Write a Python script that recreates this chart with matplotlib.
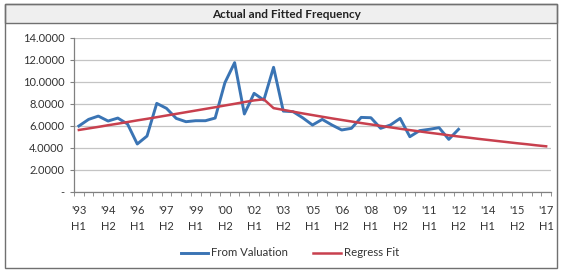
import matplotlib
matplotlib.use("Agg")
import matplotlib.pyplot as plt
from matplotlib.patches import Rectangle
from matplotlib.lines import Line2D

plt.rcParams['font.family'] = ['Lato', 'DejaVu Sans']

# half-year periods from 1993 H1 to 2017 H1
periods = ["'%02d H%d" % (y % 100, h) for y in range(1993, 2018) for h in (1, 2)][:49]
tick_every = 3

from_valuation = [5.98, 6.58, 6.88, 6.43, 6.70, 6.16, 4.35, 5.07, 8.03, 7.58,
                  6.67, 6.37, 6.46, 6.46, 6.70, 9.90, 11.72, 7.07, 8.94, 8.33,
                  11.30, 7.33, 7.28, 6.72, 6.07, 6.58, 6.07, 5.62, 5.77, 6.76,
                  6.73, 5.77, 6.07, 6.67, 5.01, 5.56, 5.68, 5.83, 4.77, 5.68]

regress_fit = [5.62, 5.76, 5.90, 6.05, 6.19, 6.34, 6.49, 6.63, 6.78, 6.93,
               7.08, 7.23, 7.38, 7.53, 7.68, 7.84, 7.99, 8.15, 8.30, 8.40,
               7.60, 7.44, 7.28, 7.12, 6.97, 6.82, 6.67, 6.53, 6.39, 6.25,
               6.12, 5.99, 5.86, 5.73, 5.61, 5.49, 5.37, 5.26, 5.14, 5.03,
               4.93, 4.82, 4.72, 4.62, 4.52, 4.42, 4.33, 4.23, 4.14]

y_ticks = [0, 2, 4, 6, 8, 10, 12, 14]

W, H = 563, 271
fig = plt.figure(figsize=(W / 100, H / 100), dpi=100)
ax = fig.add_axes([74 / W, 1 - 192 / H, (551 - 74) / W, (192 - 37.5) / H])

blue = '#3a74b4'
red = '#c8404e'
ax.plot(range(len(from_valuation)), from_valuation, color=blue, lw=2.1,
        solid_joinstyle='round', label='From Valuation', zorder=3)
ax.plot(range(len(regress_fit)), regress_fit, color=red, lw=1.8,
        solid_joinstyle='round', label='Regress Fit', zorder=4)

ax.set_xlim(-0.5, len(periods) - 0.5)
ax.set_ylim(0, 14)
ax.set_yticks(y_ticks)
ax.set_yticklabels(['-' if v == 0 else '%.4f' % v for v in y_ticks],
                   fontsize=8, color='#333333')
ax.yaxis.grid(True, color='#c4c4c4', lw=0.9)
ax.set_axisbelow(True)

idx = list(range(0, len(periods), tick_every))
ax.set_xticks(idx)
ax.set_xticklabels([periods[i].replace(' ', '\n') for i in idx],
                   fontsize=8, color='#333333', linespacing=1.65)
ax.set_xticks([i - 0.5 for i in range(len(periods) + 1)], minor=True)
ax.tick_params(axis='x', which='major', length=0, pad=9)
ax.tick_params(axis='x', which='minor', length=3, color='#808080', direction='out')
ax.tick_params(axis='y', length=3, color='#808080', pad=4)

for s in ('top', 'right'):
    ax.spines[s].set_visible(False)
for s in ('left', 'bottom'):
    ax.spines[s].set_color('#808080')
    ax.spines[s].set_linewidth(0.9)

handles = [Line2D([], [], color=blue, lw=2.1), Line2D([], [], color=red, lw=1.8)]
fig.legend(handles, ['From Valuation', 'Regress Fit'], loc='center',
           bbox_to_anchor=(290 / W, 1 - 253 / H), ncol=2, frameon=False,
           fontsize=8.2, handlelength=2.4, handletextpad=0.3, columnspacing=2.2,
           labelcolor='#333333')

# outer frame and title strip
fig.add_artist(Rectangle((5 / W, 1 - 268 / H), 552 / W, 264 / H,
                         transform=fig.transFigure, fill=False,
                         edgecolor='#707070', lw=1.0))
fig.add_artist(Rectangle((5 / W, 1 - 23 / H), 552 / W, 19 / H,
                         transform=fig.transFigure, facecolor='#efefef',
                         edgecolor='#707070', lw=1.0, zorder=0))
fig.text(287 / W, 1 - 14 / H, 'Actual and Fitted Frequency', ha='center',
         va='center', fontsize=8.5, fontweight='bold', color='#222222')

fig.savefig('out.png', dpi=100)
